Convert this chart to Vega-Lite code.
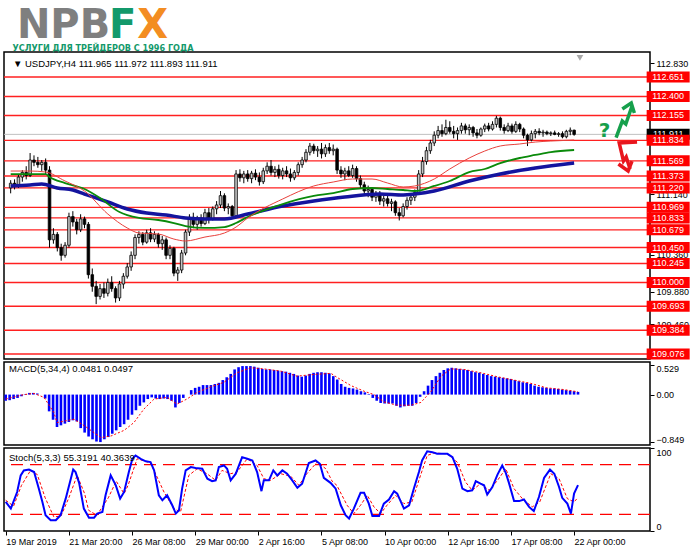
{
  "$schema": "https://vega.github.io/schema/vega-lite/v6.json",
  "padding": 0,
  "background": "white",
  "bounds": "flush",
  "spacing": 3,
  "config": {
    "view": {"stroke": "#000000", "strokeWidth": 1.5},
    "font": "Liberation Sans"
  },
  "datasets": {
    "candles": [
      {"i":0,"o":111.22,"h":111.32,"l":111.15,"c":111.28},{"i":1,"o":111.28,"h":111.33,"l":111.20,"c":111.24},
      {"i":2,"o":111.24,"h":111.40,"l":111.22,"c":111.36},{"i":3,"o":111.36,"h":111.45,"l":111.30,"c":111.42},
      {"i":4,"o":111.42,"h":111.50,"l":111.33,"c":111.38},{"i":5,"o":111.38,"h":111.67,"l":111.36,"c":111.58},
      {"i":6,"o":111.58,"h":111.64,"l":111.50,"c":111.55},{"i":7,"o":111.55,"h":111.62,"l":111.48,"c":111.52},
      {"i":8,"o":111.52,"h":111.58,"l":111.44,"c":111.55},{"i":9,"o":111.55,"h":111.60,"l":111.40,"c":111.45},
      {"i":10,"o":111.45,"h":111.50,"l":110.45,"c":110.55},{"i":11,"o":110.55,"h":110.70,"l":110.50,"c":110.62},
      {"i":12,"o":110.62,"h":110.65,"l":110.40,"c":110.45},{"i":13,"o":110.45,"h":110.50,"l":110.28,"c":110.35},
      {"i":14,"o":110.35,"h":110.52,"l":110.32,"c":110.48},{"i":15,"o":110.48,"h":110.90,"l":110.45,"c":110.85},
      {"i":16,"o":110.85,"h":110.92,"l":110.72,"c":110.78},{"i":17,"o":110.78,"h":110.82,"l":110.62,"c":110.68},
      {"i":18,"o":110.68,"h":110.88,"l":110.65,"c":110.82},{"i":19,"o":110.82,"h":110.85,"l":110.70,"c":110.75},
      {"i":20,"o":110.75,"h":110.78,"l":110.05,"c":110.10},{"i":21,"o":110.10,"h":110.18,"l":109.88,"c":109.95},
      {"i":22,"o":109.95,"h":110.02,"l":109.72,"c":109.82},{"i":23,"o":109.82,"h":109.98,"l":109.78,"c":109.92},
      {"i":24,"o":109.92,"h":110.00,"l":109.80,"c":109.86},{"i":25,"o":109.86,"h":110.05,"l":109.82,"c":110.00},
      {"i":26,"o":110.00,"h":110.08,"l":109.88,"c":109.92},{"i":27,"o":109.92,"h":109.95,"l":109.74,"c":109.80},
      {"i":28,"o":109.80,"h":110.02,"l":109.76,"c":109.98},{"i":29,"o":109.98,"h":110.12,"l":109.92,"c":110.08},
      {"i":30,"o":110.08,"h":110.25,"l":110.05,"c":110.20},{"i":31,"o":110.20,"h":110.40,"l":110.15,"c":110.35},
      {"i":32,"o":110.35,"h":110.62,"l":110.30,"c":110.58},{"i":33,"o":110.58,"h":110.66,"l":110.50,"c":110.62},
      {"i":34,"o":110.62,"h":110.65,"l":110.48,"c":110.52},{"i":35,"o":110.52,"h":110.68,"l":110.50,"c":110.64},
      {"i":36,"o":110.64,"h":110.70,"l":110.52,"c":110.56},{"i":37,"o":110.56,"h":110.66,"l":110.52,"c":110.62},
      {"i":38,"o":110.62,"h":110.64,"l":110.45,"c":110.50},{"i":39,"o":110.50,"h":110.60,"l":110.42,"c":110.55},
      {"i":40,"o":110.55,"h":110.58,"l":110.30,"c":110.35},{"i":41,"o":110.35,"h":110.48,"l":110.30,"c":110.44},
      {"i":42,"o":110.44,"h":110.46,"l":110.08,"c":110.12},{"i":43,"o":110.12,"h":110.20,"l":110.02,"c":110.16},
      {"i":44,"o":110.16,"h":110.42,"l":110.12,"c":110.38},{"i":45,"o":110.38,"h":110.68,"l":110.35,"c":110.65},
      {"i":46,"o":110.65,"h":110.88,"l":110.60,"c":110.84},{"i":47,"o":110.84,"h":110.90,"l":110.70,"c":110.75},
      {"i":48,"o":110.75,"h":110.86,"l":110.68,"c":110.82},{"i":49,"o":110.82,"h":110.88,"l":110.72,"c":110.76},
      {"i":50,"o":110.76,"h":110.95,"l":110.74,"c":110.90},{"i":51,"o":110.90,"h":110.96,"l":110.76,"c":110.82},
      {"i":52,"o":110.82,"h":110.98,"l":110.80,"c":110.95},{"i":53,"o":110.95,"h":111.05,"l":110.88,"c":111.00},
      {"i":54,"o":111.00,"h":111.18,"l":110.96,"c":111.12},{"i":55,"o":111.12,"h":111.15,"l":110.92,"c":110.96},
      {"i":56,"o":110.96,"h":111.02,"l":110.88,"c":110.98},{"i":57,"o":110.98,"h":111.00,"l":110.82,"c":110.86},
      {"i":58,"o":110.86,"h":111.45,"l":110.84,"c":111.40},{"i":59,"o":111.40,"h":111.46,"l":111.30,"c":111.35},
      {"i":60,"o":111.35,"h":111.44,"l":111.28,"c":111.40},{"i":61,"o":111.40,"h":111.45,"l":111.30,"c":111.34},
      {"i":62,"o":111.34,"h":111.44,"l":111.28,"c":111.41},{"i":63,"o":111.41,"h":111.46,"l":111.32,"c":111.36},
      {"i":64,"o":111.36,"h":111.42,"l":111.25,"c":111.30},{"i":65,"o":111.30,"h":111.48,"l":111.27,"c":111.44},
      {"i":66,"o":111.44,"h":111.55,"l":111.40,"c":111.50},{"i":67,"o":111.50,"h":111.58,"l":111.38,"c":111.42},
      {"i":68,"o":111.42,"h":111.50,"l":111.36,"c":111.46},{"i":69,"o":111.46,"h":111.52,"l":111.34,"c":111.38},
      {"i":70,"o":111.38,"h":111.48,"l":111.33,"c":111.44},{"i":71,"o":111.44,"h":111.50,"l":111.36,"c":111.40},
      {"i":72,"o":111.40,"h":111.47,"l":111.30,"c":111.35},{"i":73,"o":111.35,"h":111.45,"l":111.32,"c":111.42},
      {"i":74,"o":111.42,"h":111.55,"l":111.38,"c":111.52},{"i":75,"o":111.52,"h":111.62,"l":111.48,"c":111.58},
      {"i":76,"o":111.58,"h":111.72,"l":111.55,"c":111.68},{"i":77,"o":111.68,"h":111.80,"l":111.64,"c":111.76},
      {"i":78,"o":111.76,"h":111.79,"l":111.66,"c":111.70},{"i":79,"o":111.70,"h":111.76,"l":111.62,"c":111.72},
      {"i":80,"o":111.72,"h":111.80,"l":111.60,"c":111.66},{"i":81,"o":111.66,"h":111.78,"l":111.62,"c":111.74},
      {"i":82,"o":111.74,"h":111.80,"l":111.66,"c":111.70},{"i":83,"o":111.70,"h":111.78,"l":111.64,"c":111.72},
      {"i":84,"o":111.72,"h":111.74,"l":111.40,"c":111.45},{"i":85,"o":111.45,"h":111.50,"l":111.35,"c":111.40},
      {"i":86,"o":111.40,"h":111.48,"l":111.32,"c":111.44},{"i":87,"o":111.44,"h":111.50,"l":111.36,"c":111.38},
      {"i":88,"o":111.38,"h":111.52,"l":111.35,"c":111.47},{"i":89,"o":111.47,"h":111.50,"l":111.30,"c":111.34},
      {"i":90,"o":111.34,"h":111.38,"l":111.22,"c":111.26},{"i":91,"o":111.26,"h":111.30,"l":111.14,"c":111.18},
      {"i":92,"o":111.18,"h":111.25,"l":111.10,"c":111.20},{"i":93,"o":111.20,"h":111.22,"l":111.05,"c":111.10},
      {"i":94,"o":111.10,"h":111.18,"l":111.04,"c":111.15},{"i":95,"o":111.15,"h":111.18,"l":111.00,"c":111.05},
      {"i":96,"o":111.05,"h":111.12,"l":110.98,"c":111.08},{"i":97,"o":111.08,"h":111.14,"l":110.98,"c":111.02},
      {"i":98,"o":111.02,"h":111.08,"l":110.92,"c":111.04},{"i":99,"o":111.04,"h":111.06,"l":110.86,"c":110.90},
      {"i":100,"o":110.90,"h":110.96,"l":110.80,"c":110.86},{"i":101,"o":110.86,"h":111.02,"l":110.84,"c":110.98},
      {"i":102,"o":110.98,"h":111.10,"l":110.94,"c":111.06},{"i":103,"o":111.06,"h":111.14,"l":111.00,"c":111.10},
      {"i":104,"o":111.10,"h":111.20,"l":111.05,"c":111.16},{"i":105,"o":111.16,"h":111.45,"l":111.14,"c":111.40},
      {"i":106,"o":111.40,"h":111.62,"l":111.36,"c":111.56},{"i":107,"o":111.56,"h":111.75,"l":111.52,"c":111.70},
      {"i":108,"o":111.70,"h":111.84,"l":111.66,"c":111.80},{"i":109,"o":111.80,"h":111.95,"l":111.76,"c":111.90},
      {"i":110,"o":111.90,"h":112.02,"l":111.86,"c":111.96},{"i":111,"o":111.96,"h":112.04,"l":111.88,"c":111.92},
      {"i":112,"o":111.92,"h":112.10,"l":111.90,"c":112.00},{"i":113,"o":112.00,"h":112.08,"l":111.92,"c":111.95},
      {"i":114,"o":111.95,"h":112.02,"l":111.86,"c":111.92},{"i":115,"o":111.92,"h":112.00,"l":111.84,"c":111.96},
      {"i":116,"o":111.96,"h":112.06,"l":111.92,"c":112.02},{"i":117,"o":112.02,"h":112.05,"l":111.92,"c":111.97},
      {"i":118,"o":111.97,"h":112.04,"l":111.90,"c":112.00},{"i":119,"o":112.00,"h":112.02,"l":111.88,"c":111.93},
      {"i":120,"o":111.93,"h":111.98,"l":111.86,"c":111.90},{"i":121,"o":111.90,"h":112.00,"l":111.88,"c":111.98},
      {"i":122,"o":111.98,"h":112.05,"l":111.94,"c":112.02},{"i":123,"o":112.02,"h":112.06,"l":111.95,"c":111.98},
      {"i":124,"o":111.98,"h":112.08,"l":111.96,"c":112.04},{"i":125,"o":112.04,"h":112.15,"l":112.00,"c":112.12},
      {"i":126,"o":112.12,"h":112.14,"l":111.96,"c":112.00},{"i":127,"o":112.00,"h":112.04,"l":111.92,"c":111.96},
      {"i":128,"o":111.96,"h":112.06,"l":111.94,"c":112.02},{"i":129,"o":112.02,"h":112.05,"l":111.92,"c":111.95},
      {"i":130,"o":111.95,"h":112.08,"l":111.93,"c":112.04},{"i":131,"o":112.04,"h":112.06,"l":111.94,"c":111.98},
      {"i":132,"o":111.98,"h":112.00,"l":111.86,"c":111.90},{"i":133,"o":111.90,"h":111.92,"l":111.76,"c":111.84},
      {"i":134,"o":111.84,"h":111.96,"l":111.82,"c":111.92},{"i":135,"o":111.92,"h":111.98,"l":111.86,"c":111.95},
      {"i":136,"o":111.95,"h":111.99,"l":111.90,"c":111.93},{"i":137,"o":111.93,"h":111.97,"l":111.88,"c":111.94},
      {"i":138,"o":111.94,"h":111.96,"l":111.90,"c":111.92},{"i":139,"o":111.92,"h":111.95,"l":111.89,"c":111.93},
      {"i":140,"o":111.93,"h":111.96,"l":111.90,"c":111.91},{"i":141,"o":111.91,"h":111.94,"l":111.88,"c":111.92},
      {"i":142,"o":111.92,"h":111.95,"l":111.86,"c":111.88},{"i":143,"o":111.88,"h":111.97,"l":111.86,"c":111.95},
      {"i":144,"o":111.95,"h":112.00,"l":111.90,"c":111.965},{"i":145,"o":111.965,"h":111.972,"l":111.893,"c":111.911}
    ],
    "ma": [
      {"ma":"red","i":0,"p":111.438},{"ma":"red","i":5,"p":111.438},{"ma":"red","i":9,"p":111.425},{"ma":"red","i":14,"p":111.309},
      {"ma":"red","i":19,"p":111.180},{"ma":"red","i":25,"p":110.883},{"ma":"red","i":30,"p":110.703},{"ma":"red","i":33,"p":110.638},
      {"ma":"red","i":38,"p":110.625},{"ma":"red","i":42,"p":110.560},{"ma":"red","i":45,"p":110.535},{"ma":"red","i":50,"p":110.586},
      {"ma":"red","i":55,"p":110.638},{"ma":"red","i":58,"p":110.715},{"ma":"red","i":61,"p":110.832},{"ma":"red","i":70,"p":111.077},
      {"ma":"red","i":78,"p":111.245},{"ma":"red","i":83,"p":111.296},{"ma":"red","i":88,"p":111.335},{"ma":"red","i":93,"p":111.335},
      {"ma":"red","i":97,"p":111.283},{"ma":"red","i":101,"p":111.232},{"ma":"red","i":104,"p":111.245},{"ma":"red","i":109,"p":111.335},
      {"ma":"red","i":113,"p":111.464},{"ma":"red","i":118,"p":111.606},{"ma":"red","i":122,"p":111.696},{"ma":"red","i":126,"p":111.761},
      {"ma":"red","i":131,"p":111.787},{"ma":"red","i":135,"p":111.812},{"ma":"red","i":139,"p":111.825},{"ma":"red","i":145,"p":111.838},
      {"ma":"green","i":0,"p":111.399},{"ma":"green","i":9,"p":111.399},{"ma":"green","i":10,"p":111.361},{"ma":"green","i":14,"p":111.283},
      {"ma":"green","i":19,"p":111.206},{"ma":"green","i":23,"p":111.090},{"ma":"green","i":28,"p":110.909},{"ma":"green","i":30,"p":110.870},
      {"ma":"green","i":33,"p":110.832},{"ma":"green","i":38,"p":110.806},{"ma":"green","i":42,"p":110.767},{"ma":"green","i":45,"p":110.728},
      {"ma":"green","i":50,"p":110.703},{"ma":"green","i":55,"p":110.715},{"ma":"green","i":58,"p":110.767},{"ma":"green","i":61,"p":110.845},
      {"ma":"green","i":70,"p":111.012},{"ma":"green","i":78,"p":111.116},{"ma":"green","i":83,"p":111.154},{"ma":"green","i":88,"p":111.206},
      {"ma":"green","i":93,"p":111.219},{"ma":"green","i":97,"p":111.206},{"ma":"green","i":101,"p":111.193},{"ma":"green","i":104,"p":111.180},
      {"ma":"green","i":109,"p":111.245},{"ma":"green","i":113,"p":111.309},{"ma":"green","i":118,"p":111.425},{"ma":"green","i":122,"p":111.464},
      {"ma":"green","i":126,"p":111.541},{"ma":"green","i":131,"p":111.606},{"ma":"green","i":135,"p":111.645},{"ma":"green","i":139,"p":111.683},
      {"ma":"green","i":145,"p":111.709},
      {"ma":"blue","i":0,"p":111.245},{"ma":"blue","i":5,"p":111.257},{"ma":"blue","i":8,"p":111.270},{"ma":"blue","i":12,"p":111.219},
      {"ma":"blue","i":16,"p":111.193},{"ma":"blue","i":19,"p":111.141},{"ma":"blue","i":25,"p":111.038},{"ma":"blue","i":30,"p":110.948},
      {"ma":"blue","i":35,"p":110.896},{"ma":"blue","i":40,"p":110.870},{"ma":"blue","i":45,"p":110.832},{"ma":"blue","i":50,"p":110.819},
      {"ma":"blue","i":55,"p":110.819},{"ma":"blue","i":61,"p":110.883},{"ma":"blue","i":70,"p":110.986},{"ma":"blue","i":78,"p":111.051},
      {"ma":"blue","i":86,"p":111.103},{"ma":"blue","i":95,"p":111.141},{"ma":"blue","i":101,"p":111.128},{"ma":"blue","i":104,"p":111.141},
      {"ma":"blue","i":109,"p":111.180},{"ma":"blue","i":118,"p":111.309},{"ma":"blue","i":126,"p":111.400},{"ma":"blue","i":135,"p":111.477},
      {"ma":"blue","i":145,"p":111.541}
    ],
    "levels": [
      {"level":112.651},{"level":112.400},{"level":112.155},{"level":111.834},{"level":111.569},{"level":111.373},
      {"level":111.220},{"level":110.969},{"level":110.833},{"level":110.679},{"level":110.450},{"level":110.245},
      {"level":110.000},{"level":109.693},{"level":109.384},{"level":109.076}
    ],
    "arrows": [
      {"col":"g","g":"g1","n":0,"i":155.8,"p":111.868},{"col":"g","g":"g1","n":1,"i":157.4,"p":112.083},
      {"col":"g","g":"g1","n":2,"i":158.3,"p":112.045},{"col":"g","g":"g1","n":3,"i":159.9,"p":112.277},
      {"col":"g","g":"g2","n":0,"i":157.4,"p":112.238},{"col":"g","g":"g2","n":1,"i":159.7,"p":112.316},
      {"col":"g","g":"g2","n":2,"i":160.5,"p":112.187},
      {"col":"r","g":"r1","n":0,"i":161.2,"p":111.813},{"col":"r","g":"r1","n":1,"i":156.6,"p":111.800},
      {"col":"r","g":"r1","n":2,"i":157.7,"p":111.567},{"col":"r","g":"r1","n":3,"i":158.4,"p":111.619},
      {"col":"r","g":"r1","n":4,"i":159.4,"p":111.464},
      {"col":"r","g":"r2","n":0,"i":156.4,"p":111.529},{"col":"r","g":"r2","n":1,"i":158.9,"p":111.438},
      {"col":"r","g":"r2","n":2,"i":159.9,"p":111.567}
    ],
    "macd": [
      {"i":0,"m":-0.11},{"i":1,"m":-0.10},{"i":2,"m":-0.08},{"i":3,"m":-0.06},{"i":4,"m":-0.03},{"i":5,"m":0.01},
      {"i":6,"m":0.03},{"i":7,"m":0.03},{"i":8,"m":0.02},{"i":9,"m":0.00},{"i":10,"m":-0.07},{"i":11,"m":-0.30},
      {"i":12,"m":-0.45},{"i":13,"m":-0.58},{"i":14,"m":-0.55},{"i":15,"m":-0.52},{"i":16,"m":-0.49},{"i":17,"m":-0.46},
      {"i":18,"m":-0.48},{"i":19,"m":-0.60},{"i":20,"m":-0.68},{"i":21,"m":-0.75},{"i":22,"m":-0.80},{"i":23,"m":-0.84},
      {"i":24,"m":-0.85},{"i":25,"m":-0.80},{"i":26,"m":-0.76},{"i":27,"m":-0.70},{"i":28,"m":-0.64},{"i":29,"m":-0.58},
      {"i":30,"m":-0.53},{"i":31,"m":-0.45},{"i":32,"m":-0.36},{"i":33,"m":-0.28},{"i":34,"m":-0.20},{"i":35,"m":-0.14},
      {"i":36,"m":-0.08},{"i":37,"m":-0.05},{"i":38,"m":-0.07},{"i":39,"m":-0.08},{"i":40,"m":-0.07},{"i":41,"m":-0.08},
      {"i":42,"m":-0.11},{"i":43,"m":-0.23},{"i":44,"m":-0.15},{"i":45,"m":-0.06},{"i":46,"m":0.00},{"i":47,"m":0.08},
      {"i":48,"m":0.12},{"i":49,"m":0.14},{"i":50,"m":0.17},{"i":51,"m":0.17},{"i":52,"m":0.17},{"i":53,"m":0.19},
      {"i":54,"m":0.21},{"i":55,"m":0.26},{"i":56,"m":0.31},{"i":57,"m":0.37},{"i":58,"m":0.45},{"i":59,"m":0.49},
      {"i":60,"m":0.51},{"i":61,"m":0.51},{"i":62,"m":0.51},{"i":63,"m":0.50},{"i":64,"m":0.48},{"i":65,"m":0.46},
      {"i":66,"m":0.45},{"i":67,"m":0.45},{"i":68,"m":0.44},{"i":69,"m":0.43},{"i":70,"m":0.42},{"i":71,"m":0.41},
      {"i":72,"m":0.39},{"i":73,"m":0.37},{"i":74,"m":0.34},{"i":75,"m":0.32},{"i":76,"m":0.34},{"i":77,"m":0.37},
      {"i":78,"m":0.39},{"i":79,"m":0.40},{"i":80,"m":0.40},{"i":81,"m":0.39},{"i":82,"m":0.38},{"i":83,"m":0.33},
      {"i":84,"m":0.27},{"i":85,"m":0.19},{"i":86,"m":0.14},{"i":87,"m":0.12},{"i":88,"m":0.11},{"i":89,"m":0.09},
      {"i":90,"m":0.06},{"i":91,"m":0.04},{"i":92,"m":0.01},{"i":93,"m":-0.06},{"i":94,"m":-0.11},{"i":95,"m":-0.15},
      {"i":96,"m":-0.16},{"i":97,"m":-0.16},{"i":98,"m":-0.16},{"i":99,"m":-0.20},{"i":100,"m":-0.23},{"i":101,"m":-0.21},
      {"i":102,"m":-0.20},{"i":103,"m":-0.20},{"i":104,"m":-0.15},{"i":105,"m":-0.04},{"i":106,"m":0.06},{"i":107,"m":0.16},
      {"i":108,"m":0.26},{"i":109,"m":0.33},{"i":110,"m":0.39},{"i":111,"m":0.44},{"i":112,"m":0.47},{"i":113,"m":0.48},
      {"i":114,"m":0.47},{"i":115,"m":0.46},{"i":116,"m":0.45},{"i":117,"m":0.44},{"i":118,"m":0.42},{"i":119,"m":0.40},
      {"i":120,"m":0.39},{"i":121,"m":0.37},{"i":122,"m":0.35},{"i":123,"m":0.33},{"i":124,"m":0.32},{"i":125,"m":0.31},
      {"i":126,"m":0.30},{"i":127,"m":0.29},{"i":128,"m":0.28},{"i":129,"m":0.26},{"i":130,"m":0.24},{"i":131,"m":0.22},
      {"i":132,"m":0.21},{"i":133,"m":0.19},{"i":134,"m":0.16},{"i":135,"m":0.14},{"i":136,"m":0.13},{"i":137,"m":0.12},
      {"i":138,"m":0.11},{"i":139,"m":0.11},{"i":140,"m":0.10},{"i":141,"m":0.09},{"i":142,"m":0.08},{"i":143,"m":0.07},
      {"i":144,"m":0.06},{"i":145,"m":0.0481}
    ],
    "macdsig": [
      {"i":0,"s":-0.08},{"i":4.6,"s":0.0},{"i":7.2,"s":0.02},{"i":9.7,"s":-0.05},{"i":12.2,"s":-0.32},{"i":13.0,"s":-0.50},
      {"i":17.3,"s":-0.44},{"i":20.6,"s":-0.59},{"i":24.1,"s":-0.77},{"i":26.7,"s":-0.74},{"i":30.0,"s":-0.64},{"i":32.5,"s":-0.50},
      {"i":35.0,"s":-0.26},{"i":37.6,"s":-0.08},{"i":40.9,"s":-0.05},{"i":43.4,"s":-0.17},{"i":45.9,"s":-0.08},{"i":48.5,"s":0.04},
      {"i":52.0,"s":0.14},{"i":55.3,"s":0.22},{"i":58.6,"s":0.39},{"i":62.1,"s":0.48},{"i":65.4,"s":0.46},{"i":69.7,"s":0.42},
      {"i":73.8,"s":0.33},{"i":78.1,"s":0.36},{"i":82.4,"s":0.38},{"i":83.9,"s":0.31},{"i":87.5,"s":0.16},{"i":90.8,"s":0.06},
      {"i":93.3,"s":0.0},{"i":95.8,"s":-0.13},{"i":99.1,"s":-0.19},{"i":102.7,"s":-0.19},{"i":105.2,"s":-0.14},{"i":107.8,"s":0.06},
      {"i":110.3,"s":0.33},{"i":112.8,"s":0.46},{"i":116.1,"s":0.45},{"i":120.4,"s":0.39},{"i":124.5,"s":0.32},{"i":128.8,"s":0.26},
      {"i":133.1,"s":0.20},{"i":137.1,"s":0.12},{"i":141.4,"s":0.09},{"i":145,"s":0.0497}
    ],
    "stoch": [
      {"i":0,"k":35},{"i":1.3,"k":27},{"i":2.9,"k":47},{"i":3.8,"k":67},{"i":4.6,"k":73},{"i":5.9,"k":74},{"i":7.2,"k":71},
      {"i":8.4,"k":51},{"i":9.3,"k":35},{"i":10.1,"k":19},{"i":11.4,"k":13},{"i":12.7,"k":13},{"i":13.9,"k":19},{"i":15.2,"k":39},
      {"i":16.5,"k":63},{"i":17.1,"k":74},{"i":17.7,"k":71},{"i":18.6,"k":58},{"i":19.8,"k":27},{"i":21.1,"k":16},{"i":22.4,"k":16},
      {"i":23.2,"k":21},{"i":24.5,"k":23},{"i":25.3,"k":43},{"i":26.6,"k":67},{"i":27.9,"k":55},{"i":29.0,"k":39},{"i":30.0,"k":47},
      {"i":31.2,"k":71},{"i":32.1,"k":87},{"i":32.9,"k":91},{"i":34.2,"k":87},{"i":35.5,"k":84},{"i":36.7,"k":83},{"i":37.6,"k":73},
      {"i":38.8,"k":43},{"i":39.7,"k":37},{"i":40.9,"k":43},{"i":42.2,"k":31},{"i":43.1,"k":21},{"i":43.9,"k":25},{"i":44.7,"k":51},
      {"i":45.6,"k":73},{"i":46.9,"k":77},{"i":48.1,"k":76},{"i":49.8,"k":75},{"i":51.1,"k":63},{"i":52.3,"k":60},{"i":53.2,"k":61},
      {"i":54.0,"k":77},{"i":55.3,"k":79},{"i":56.1,"k":75},{"i":57.0,"k":61},{"i":58.3,"k":69},{"i":59.9,"k":89},{"i":61.2,"k":87},
      {"i":62.5,"k":85},{"i":63.7,"k":71},{"i":64.8,"k":48},{"i":65.4,"k":61},{"i":66.7,"k":61},{"i":67.8,"k":73},{"i":68.8,"k":67},
      {"i":70.1,"k":73},{"i":71.3,"k":69},{"i":72.6,"k":61},{"i":73.9,"k":52},{"i":75.1,"k":57},{"i":76.8,"k":82},{"i":78.5,"k":85},
      {"i":79.6,"k":81},{"i":80.6,"k":64},{"i":82.3,"k":58},{"i":83.6,"k":51},{"i":84.9,"k":31},{"i":86.1,"k":19},{"i":87.0,"k":15},
      {"i":88.2,"k":27},{"i":89.9,"k":46},{"i":90.8,"k":46},{"i":92.0,"k":33},{"i":92.9,"k":18},{"i":94.6,"k":18},{"i":95.8,"k":33},
      {"i":97.1,"k":38},{"i":98.4,"k":48},{"i":99.2,"k":45},{"i":100.9,"k":27},{"i":102.2,"k":31},{"i":103.4,"k":51},{"i":104.7,"k":71},
      {"i":105.5,"k":85},{"i":106.8,"k":96},{"i":108.1,"k":95},{"i":109.3,"k":93},{"i":111.9,"k":93},{"i":113.2,"k":89},{"i":114.4,"k":75},
      {"i":115.7,"k":51},{"i":117.0,"k":48},{"i":118.2,"k":49},{"i":119.1,"k":60},{"i":120.3,"k":57},{"i":121.2,"k":55},{"i":122.0,"k":44},
      {"i":123.3,"k":53},{"i":124.6,"k":68},{"i":125.8,"k":79},{"i":126.7,"k":70},{"i":127.5,"k":58},{"i":128.8,"k":36},{"i":130.1,"k":36},
      {"i":131.3,"k":38},{"i":132.6,"k":29},{"i":133.8,"k":24},{"i":135.1,"k":41},{"i":136.4,"k":64},{"i":137.9,"k":74},{"i":139.0,"k":69},
      {"i":140.2,"k":53},{"i":141.0,"k":40},{"i":142.3,"k":33},{"i":143.2,"k":21},{"i":144.0,"k":45},{"i":145,"k":55.3}
    ],
    "stochsig": [
      {"i":0,"d":37},{"i":2,"d":30},{"i":4,"d":55},{"i":6.3,"d":73},{"i":8,"d":68},{"i":10,"d":40},{"i":12.2,"d":17},
      {"i":14,"d":18},{"i":16,"d":40},{"i":18.1,"d":67},{"i":20,"d":45},{"i":21,"d":25},{"i":23.1,"d":19},{"i":26,"d":40},
      {"i":28,"d":60},{"i":30,"d":45},{"i":31,"d":55},{"i":33.3,"d":87},{"i":36.7,"d":82},{"i":40.1,"d":47},{"i":42.6,"d":27},
      {"i":44.3,"d":23},{"i":46.4,"d":67},{"i":48.5,"d":75},{"i":51.0,"d":69},{"i":53.2,"d":61},{"i":54.8,"d":73},{"i":57.0,"d":69},
      {"i":58.6,"d":71},{"i":61.2,"d":87},{"i":63.7,"d":79},{"i":65.4,"d":63},{"i":67.1,"d":61},{"i":69.7,"d":69},{"i":72.2,"d":66},
      {"i":74.3,"d":55},{"i":76.3,"d":69},{"i":78.9,"d":83},{"i":81.1,"d":75},{"i":82.7,"d":60},{"i":83.9,"d":55},{"i":86.5,"d":31},
      {"i":88.2,"d":21},{"i":89.9,"d":31},{"i":91.6,"d":43},{"i":93.3,"d":29},{"i":95.0,"d":21},{"i":96.6,"d":31},{"i":98.8,"d":43},
      {"i":100.9,"d":33},{"i":102.9,"d":35},{"i":105.1,"d":67},{"i":106.8,"d":91},{"i":108.5,"d":94},{"i":111.9,"d":93},{"i":114.4,"d":83},
      {"i":116.5,"d":59},{"i":118.2,"d":49},{"i":120.3,"d":57},{"i":122.5,"d":49},{"i":124.6,"d":61},{"i":126.7,"d":75},{"i":128.8,"d":51},
      {"i":130.9,"d":39},{"i":133.4,"d":29},{"i":135.3,"d":35},{"i":138.1,"d":69},{"i":140.2,"d":63},{"i":142.3,"d":39},{"i":144.0,"d":35},
      {"i":145,"d":40.36}
    ],
    "stochlevels": [{"v":80},{"v":20}],
    "mainticks": [{"v":112.83},{"v":111.89},{"v":111.14},{"v":110.36},{"v":109.88},{"v":109.46}],
    "macdticks": [{"v":0.529},{"v":0},{"v":-0.849}]
  },
  "vconcat": [
    {
      "width": 646,
      "height": 307,
      "layer": [
        {
          "data": {"name": "mainticks"},
          "mark": {"type": "rule", "strokeOpacity": 0},
          "encoding": {
            "y": {"field": "v", "type": "quantitative", "title": null,
              "scale": {"domain": [109.012, 112.974], "nice": false, "zero": false},
              "axis": {"orient": "right", "title": null, "values": [112.83, 111.89, 111.14, 110.36, 109.88, 109.46], "format": ".3f",
                "grid": false, "domain": false, "ticks": true, "tickSize": 4, "tickColor": "#000000",
                "labelPadding": 2, "labelFontSize": 9, "labelFont": "Liberation Sans", "labelColor": "#000000", "labelFlush": false, "labelOverlap": false}}
          }
        },
        {
          "data": {"values": [{"top": 113.626}]},
          "mark": {"type": "rule", "strokeOpacity": 0, "strokeWidth": 1},
          "encoding": {"y": {"field": "top", "type": "quantitative"}}
        },
        {
          "data": {"name": "levels"},
          "mark": {"type": "rule", "color": "#ff2020", "strokeWidth": 1.4},
          "encoding": {"y": {"field": "level", "type": "quantitative"}}
        },
        {
          "data": {"values": [{"p": 111.911}]},
          "mark": {"type": "rule", "color": "#c0c0c0", "strokeWidth": 1},
          "encoding": {"y": {"field": "p", "type": "quantitative"}}
        },
        {
          "data": {"name": "candles"},
          "mark": {"type": "rule", "color": "#000000", "strokeWidth": 1},
          "encoding": {
            "x": {"field": "i", "type": "quantitative", "scale": {"domain": [-0.43, 163.24], "nice": false, "zero": false}, "axis": null},
            "y": {"field": "l", "type": "quantitative"},
            "y2": {"field": "h"}
          }
        },
        {
          "data": {"name": "candles"},
          "mark": {"type": "bar", "size": 2.6, "stroke": "#000000", "strokeWidth": 0.8},
          "encoding": {
            "x": {"field": "i", "type": "quantitative", "axis": null},
            "y": {"field": "o", "type": "quantitative"},
            "y2": {"field": "c"},
            "fill": {"condition": {"test": "datum.c >= datum.o", "value": "#c4c4c4"}, "value": "#000000"}
          }
        },
        {
          "data": {"name": "ma"},
          "transform": [{"filter": {"field": "ma", "equal": "blue"}}],
          "mark": {"type": "line", "color": "#14149e", "strokeWidth": 3.5, "interpolate": "monotone"},
          "encoding": {
            "x": {"field": "i", "type": "quantitative", "axis": null},
            "y": {"field": "p", "type": "quantitative"}
          }
        },
        {
          "data": {"name": "ma"},
          "transform": [{"filter": {"field": "ma", "equal": "green"}}],
          "mark": {"type": "line", "color": "#0a8a0a", "strokeWidth": 1.8, "interpolate": "monotone"},
          "encoding": {
            "x": {"field": "i", "type": "quantitative", "axis": null},
            "y": {"field": "p", "type": "quantitative"}
          }
        },
        {
          "data": {"name": "ma"},
          "transform": [{"filter": {"field": "ma", "equal": "red"}}],
          "mark": {"type": "line", "color": "#e8413c", "strokeWidth": 1, "interpolate": "monotone"},
          "encoding": {
            "x": {"field": "i", "type": "quantitative", "axis": null},
            "y": {"field": "p", "type": "quantitative"}
          }
        },
        {
          "data": {"name": "arrows"},
          "transform": [{"filter": {"field": "col", "equal": "g"}}],
          "mark": {"type": "line", "color": "#16a04c", "strokeWidth": 3.5},
          "encoding": {
            "x": {"field": "i", "type": "quantitative", "axis": null},
            "y": {"field": "p", "type": "quantitative"},
            "detail": {"field": "g"},
            "order": {"field": "n"}
          }
        },
        {
          "data": {"name": "arrows"},
          "transform": [{"filter": {"field": "col", "equal": "r"}}],
          "mark": {"type": "line", "color": "#e8161e", "strokeWidth": 3.5},
          "encoding": {
            "x": {"field": "i", "type": "quantitative", "axis": null},
            "y": {"field": "p", "type": "quantitative"},
            "detail": {"field": "g"},
            "order": {"field": "n"}
          }
        },
        {
          "data": {"values": [{"i": 152.8, "p": 111.955, "t": "?"}]},
          "mark": {"type": "text", "color": "#16a04c", "fontSize": 20, "fontWeight": "bold", "font": "DejaVu Sans", "baseline": "middle", "align": "center"},
          "encoding": {
            "x": {"field": "i", "type": "quantitative", "axis": null},
            "y": {"field": "p", "type": "quantitative"},
            "text": {"field": "t"}
          }
        },
        {
          "data": {"values": [{"i": 146.5, "p": 112.897}]},
          "mark": {"type": "point", "shape": "triangle-down", "filled": true, "size": 45, "color": "#a8a8a8", "opacity": 1},
          "encoding": {
            "x": {"field": "i", "type": "quantitative", "axis": null},
            "y": {"field": "p", "type": "quantitative"}
          }
        },
        {
          "data": {"values": [{"i": 0.58, "p": 112.819, "t": "▼  USDJPY,H4  111.965 111.972 111.893 111.911"}]},
          "mark": {"type": "text", "color": "#000000", "fontSize": 9.5, "align": "left", "baseline": "middle"},
          "encoding": {
            "x": {"field": "i", "type": "quantitative", "axis": null},
            "y": {"field": "p", "type": "quantitative"},
            "text": {"field": "t"}
          }
        },
        {
          "data": {"values": [
            {"i": 1.6, "p": 113.155, "t": "NPB", "col": "#7f7f7f"},
            {"i": 25.3, "p": 113.155, "t": "F", "col": "#13996b"},
            {"i": 32.6, "p": 113.155, "t": "X", "col": "#f38d22"}
          ]},
          "mark": {"type": "text", "fontSize": 40, "fontWeight": "bold", "font": "DejaVu Sans", "align": "left", "baseline": "alphabetic"},
          "encoding": {
            "x": {"field": "i", "type": "quantitative", "axis": null},
            "y": {"field": "p", "type": "quantitative"},
            "text": {"field": "t"},
            "color": {"field": "col", "type": "nominal", "scale": null, "legend": null}
          }
        },
        {
          "data": {"values": [{"i": 0.5, "p": 112.987, "t": "УСЛУГИ ДЛЯ ТРЕЙДЕРОВ С 1996 ГОДА"}]},
          "mark": {"type": "text", "color": "#13996b", "fontSize": 9, "fontWeight": "bold", "font": "DejaVu Sans Condensed, Liberation Sans, sans-serif", "align": "left", "baseline": "alphabetic"},
          "encoding": {
            "x": {"field": "i", "type": "quantitative", "axis": null},
            "y": {"field": "p", "type": "quantitative"},
            "text": {"field": "t"}
          }
        },
        {
          "data": {"values": [{"i": 169.2, "p": 111.911}]},
          "layer": [
            {"mark": {"type": "tick", "orient": "horizontal", "size": 43, "thickness": 11, "color": "#000000", "opacity": 1}},
            {"mark": {"type": "text", "color": "#ffffff", "fontSize": 9, "align": "center", "baseline": "middle"},
             "encoding": {"text": {"field": "p", "type": "quantitative", "format": ".3f"}}}
          ],
          "encoding": {
            "x": {"field": "i", "type": "quantitative", "axis": null},
            "y": {"field": "p", "type": "quantitative"}
          }
        },
        {
          "data": {"name": "levels"},
          "layer": [
            {"mark": {"type": "tick", "orient": "horizontal", "size": 43, "thickness": 11, "color": "#ff0000", "opacity": 1}},
            {"mark": {"type": "text", "color": "#ffffff", "fontSize": 9, "align": "center", "baseline": "middle"},
             "encoding": {"text": {"field": "level", "type": "quantitative", "format": ".3f"}}}
          ],
          "encoding": {
            "x": {"datum": 169.2, "type": "quantitative", "axis": null},
            "y": {"field": "level", "type": "quantitative"}
          }
        }
      ]
    },
    {
      "width": 646,
      "height": 83,
      "layer": [
        {
          "data": {"name": "macdticks"},
          "mark": {"type": "rule", "strokeOpacity": 0},
          "encoding": {
            "y": {"field": "v", "type": "quantitative", "title": null,
              "scale": {"domain": [-0.902, 0.583], "nice": false, "zero": false},
              "axis": {"orient": "right", "title": null, "values": [0.529, 0, -0.849], "grid": false, "domain": false, "ticks": true, "tickSize": 4, "tickColor": "#000000",
                "labelPadding": 2, "labelFontSize": 9, "labelFont": "Liberation Sans", "labelColor": "#000000", "labelFlush": false, "labelOverlap": false,
                "labelOffset": {"condition": [{"test": "datum.value > 0.5", "value": 3}, {"test": "datum.value < -0.5", "value": -3}], "value": 0},
                "labelExpr": "datum.value == 0 ? '0.00' : format(datum.value, '.3f')"}}
          }
        },
        {
          "data": {"name": "macd"},
          "mark": {"type": "rule", "color": "#0000ff", "strokeWidth": 2.6},
          "encoding": {
            "x": {"field": "i", "type": "quantitative", "scale": {"domain": [-0.43, 163.24], "nice": false, "zero": false}, "axis": null},
            "y": {"field": "m", "type": "quantitative"},
            "y2": {"datum": 0}
          }
        },
        {
          "data": {"name": "macdsig"},
          "mark": {"type": "line", "color": "#ff0000", "strokeWidth": 1, "strokeDash": [2, 2]},
          "encoding": {
            "x": {"field": "i", "type": "quantitative", "axis": null},
            "y": {"field": "s", "type": "quantitative"}
          }
        },
        {
          "data": {"values": [{"i": 0.84, "v": 0.458, "t": "MACD(5,34,4) 0.0481 0.0497"}]},
          "mark": {"type": "text", "color": "#000000", "fontSize": 9.5, "align": "left", "baseline": "middle"},
          "encoding": {
            "x": {"field": "i", "type": "quantitative", "axis": null},
            "y": {"field": "v", "type": "quantitative"},
            "text": {"field": "t"}
          }
        }
      ]
    },
    {
      "width": 646,
      "height": 83,
      "layer": [
        {
          "data": {"name": "stoch"},
          "mark": {"type": "line", "color": "#0000ff", "strokeWidth": 0, "strokeOpacity": 0},
          "encoding": {
            "x": {"field": "i", "type": "quantitative", "title": null,
              "scale": {"domain": [-0.43, 163.24], "nice": false, "zero": false},
              "axis": {"orient": "bottom", "title": null, "values": [0, 16, 32, 48, 64, 80, 96, 112, 128, 144], "grid": false, "domain": false,
                "ticks": true, "tickSize": 4, "tickColor": "#000000", "labelAlign": "left", "labelFontSize": 9, "labelFont": "Liberation Sans", "labelColor": "#000000",
                "labelPadding": 2, "labelFlush": false, "labelOverlap": false,
                "labelExpr": "['19 Mar 2019','21 Mar 20:00','26 Mar 08:00','29 Mar 00:00','2 Apr 16:00','5 Apr 08:00','10 Apr 00:00','12 Apr 16:00','17 Apr 08:00','22 Apr 00:00'][round(datum.value / 16)]"}},
            "y": {"field": "k", "type": "quantitative", "title": null,
              "scale": {"domain": [0, 100], "nice": false, "zero": false},
              "axis": {"orient": "right", "title": null, "values": [100, 80, 20, 0], "grid": false, "domain": false, "ticks": true, "tickSize": 4, "tickColor": "#000000",
                "labelPadding": 2, "labelFontSize": 9, "labelFont": "Liberation Sans", "labelColor": "#000000", "labelFlush": false, "labelOverlap": false,
                "labelOffset": {"condition": [{"test": "datum.value == 100", "value": 4}, {"test": "datum.value == 0", "value": -5}], "value": 0}}}
          }
        },
        {
          "data": {"name": "stochlevels"},
          "mark": {"type": "rule", "color": "#ff0000", "strokeWidth": 1.3, "strokeDash": [12, 7]},
          "encoding": {"y": {"field": "v", "type": "quantitative"}}
        },
        {
          "data": {"name": "stochsig"},
          "mark": {"type": "line", "color": "#ff0000", "strokeWidth": 1, "strokeDash": [3, 2]},
          "encoding": {
            "x": {"field": "i", "type": "quantitative"},
            "y": {"field": "d", "type": "quantitative"}
          }
        },
        {
          "data": {"name": "stoch"},
          "mark": {"type": "line", "color": "#0000ff", "strokeWidth": 2},
          "encoding": {
            "x": {"field": "i", "type": "quantitative"},
            "y": {"field": "k", "type": "quantitative"}
          }
        },
        {
          "data": {"values": [{"i": 0.84, "v": 88, "t": "Stoch(5,3,3) 55.3191 40.3639"}]},
          "mark": {"type": "text", "color": "#000000", "fontSize": 9.5, "align": "left", "baseline": "middle"},
          "encoding": {
            "x": {"field": "i", "type": "quantitative"},
            "y": {"field": "v", "type": "quantitative"},
            "text": {"field": "t"}
          }
        }
      ]
    }
  ]
}
